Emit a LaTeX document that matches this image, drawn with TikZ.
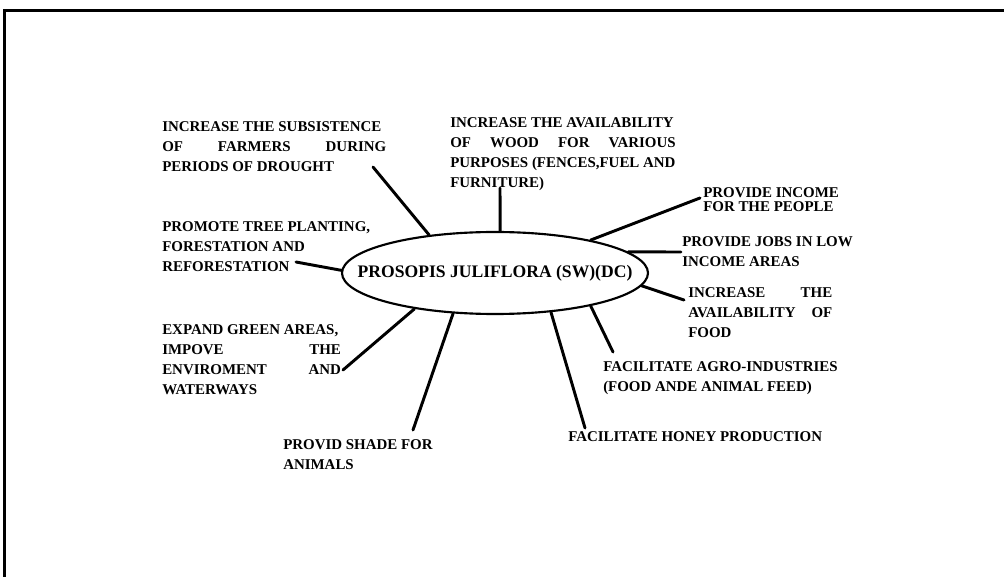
\documentclass[tikz,border=0pt]{standalone}
\usepackage{fontspec}
\setmainfont{Liberation Serif}
\usepackage{tikz}
\usetikzlibrary{calc}
\usetikzlibrary{shapes.geometric}
\tikzstyle{lbl} = [anchor=north west, 
inner sep=0pt, 
align=left, 
font=\fontsize{11.2}{15}\selectfont\bfseries]
\tikzstyle{hub} = [ellipse, 
draw=black, 
line width=1.6pt, 
minimum width=229.5pt, 
minimum height=61.5pt, 
inner sep=0pt, 
font=\fontsize{13.2}{15}\selectfont\bfseries]
\tikzstyle{spoke} = [line width=2.2pt, line cap=round]
% spread a line over a given width
\newcommand{\spreadline}[2]{\makebox[#1][s]{#2}}

\begin{document}
\begin{tikzpicture}[x=0.75pt, y=-0.75pt]
    \useasboundingbox (0,0) rectangle (1004,577);
    % frame
    \draw [line width=2.4pt] (1004,10.5) -- (4.5,10.5) -- (4.5,577);

    \node (pj) [hub] at (495,273) {\makebox[0pt]{PROSOPIS JULIFLORA (SW)(DC)}};

    \node (sub) [lbl] at (162,121) {INCREASE THE SUBSISTENCE\\ \spreadline{168pt}{OF FARMERS DURING}\\ PERIODS OF DROUGHT};
    \node (promo) [lbl] at (162,221) {PROMOTE TREE PLANTING,\\ FORESTATION AND\\ REFORESTATION};
    \node (wood) [lbl] at (450,117) {INCREASE THE AVAILABILITY\\ \spreadline{169pt}{OF WOOD FOR VARIOUS}\\ PURPOSES (FENCES,FUEL AND\\ FURNITURE)};
    \node (income) [lbl, font=\fontsize{11.2}{10.5}\selectfont\bfseries] at (703,187) {PROVIDE INCOME\\ FOR THE PEOPLE};
    \node (jobs) [lbl] at (682,236) {PROVIDE JOBS IN LOW\\ INCOME AREAS};
    \node (food) [lbl] at (688,287) {\spreadline{108pt}{INCREASE THE}\\ \spreadline{108pt}{AVAILABILITY OF}\\ FOOD};
    \node (agro) [lbl] at (603,361) {FACILITATE AGRO-INDUSTRIES\\ (FOOD ANDE ANIMAL FEED)};
    \node (honey) [lbl] at (568,431) {FACILITATE HONEY PRODUCTION};
    \node (shade) [lbl] at (283,439) {PROVID SHADE FOR\\ ANIMALS};
    \node (green) [lbl] at (162,324) {EXPAND GREEN AREAS,\\ \spreadline{134pt}{IMPOVE THE}\\ \spreadline{134pt}{ENVIROMENT AND}\\ WATERWAYS};

    % spokes
    \draw [spoke] ($(sub.north west)+(211,46)$) -- (pj.150);
    \draw [spoke] ($(promo.north west)+(134,41)$) -- (pj.179);
    \draw [spoke] ($(wood.north west)+(50,71)$) -- (pj.83);
    \draw [spoke] ($(income.north west)+(-3,11)$) -- (pj.19);
    \draw [spoke] ($(jobs.north west)+(-1,16)$) -- (pj.9);
    \draw [spoke] ($(food.north west)+(-4,13)$) -- (pj.-5);
    \draw [spoke] ($(agro.north west)+(10,-9)$) -- (pj.-19);
    \draw [spoke] ($(honey.north west)+(17,-3)$) -- (pj.-35);
    \draw [spoke] ($(shade.north west)+(130,-9)$) -- (pj.-136);
    \draw [spoke] ($(green.north west)+(181,46)$) -- (pj.-156);
\end{tikzpicture}
\end{document}
